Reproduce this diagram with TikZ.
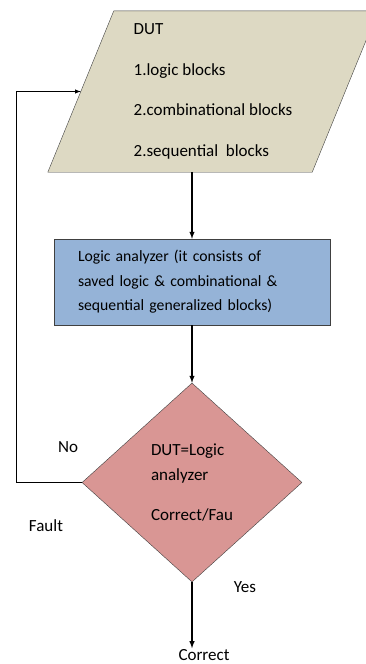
\documentclass[tikz,border=0pt]{standalone}
\usepackage{fontspec}
\setmainfont{Carlito}
\usetikzlibrary{shapes.geometric,positioning,backgrounds}
\definecolor{dutfill}{HTML}{DDD9C3}
\definecolor{lafill}{HTML}{95B3D7}
\definecolor{decfill}{HTML}{D99694}
\definecolor{edgegray}{HTML}{404040}

\begin{document}
\begin{tikzpicture}[x=1pt,y=-1pt,>=latex,on grid,
  font=\fontsize{17}{25}\selectfont,
  io/.style={rectangle,minimum width=264pt,minimum height=161pt,
    inner sep=0pt,align=left},
  block/.style={rectangle,draw=edgegray,fill=lafill,minimum width=276pt,
    minimum height=86pt,text width=228pt,align=left,
    font=\fontsize{15.7}{24.5}\selectfont},
  decision/.style={diamond,draw=edgegray,fill=decfill,minimum width=220pt,
    minimum height=199pt,inner sep=0pt,align=left},
  label/.style={inner sep=1pt},
  flow/.style={->,line width=1.4pt}]

   \useasboundingbox (0,0) rectangle (366,664);

   \node[io] (dut) at (213,91.5)
     {DUT\\[15.5pt]1.logic blocks\\[15.5pt]2.combinational blocks\\[15.5pt]2.sequential~ blocks};
   % parallelogram behind the DUT text
   \begin{scope}[on background layer]
     \path[draw=edgegray,fill=dutfill]
       ([xshift=33pt]dut.north west) -- ([xshift=33pt]dut.north east)
       -- ([xshift=-33pt]dut.south east) -- ([xshift=-33pt]dut.south west) -- cycle;
   \end{scope}
   \node[block] (la) [below left=190.5pt and 21pt of dut]
     {Logic analyzer (it consists of\\saved logic \& combinational \&\\sequential generalized blocks)};
   \node[decision] (dia) [below=200.5pt of la]
     {DUT=Logic\\analyzer\\[15pt]Correct/Fau};

   \node[label] (no) [above left=35.5pt and 124pt of dia] {No};
   \node[label] (fault) [below left=43.5pt and 146pt of dia] {Fault};
   \node[label] (yes) [below right=104.5pt and 53pt of dia] {Yes};
   \node[label] (correct) [below right=172.5pt and 12pt of dia] {Correct};

   \draw[flow] (la.north |- dut.south) -- (la.north);
   \draw[flow] (la.south) -- (dia.north);
   \draw[flow] (dia.south) -- (dia.south |- correct.north);
   \draw[->,line width=1pt] (dia.west) -- ++(-65,0) |- (dut.west);
\end{tikzpicture}
\end{document}
